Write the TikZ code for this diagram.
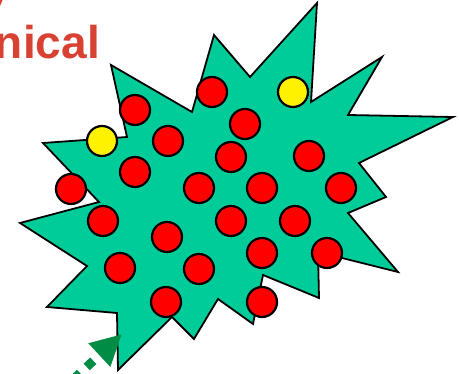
\documentclass[tikz,border=0pt]{standalone}
\usepackage{fontspec}
\setmainfont{Liberation Sans}
\usepackage{tikz}
\usetikzlibrary{arrows.meta}
\usepackage{xcolor}
\definecolor{blobgreen}{RGB}{0,204,153}
\definecolor{arrowgreen}{RGB}{0,140,69}
\definecolor{titlered}{RGB}{217,65,50}

\begin{document}
\begin{tikzpicture}[
    x=1pt, y=-1pt,
    ball/.style={
        circle, draw=black, line width=2.2pt,
        fill=#1, minimum size=30pt, inner sep=0pt
    },
    ball/.default={red},
    garrow/.style={-{Triangle[length=31pt,width=30pt]}, line width=9pt,
        draw=arrowgreen, dash pattern=on 9pt off 9pt},
    lbl/.style={font=\bfseries\fontsize{46}{55}\selectfont, text=titlered,
        inner sep=0pt, anchor=base east}
]
\useasboundingbox (0,0) rectangle (459,374);
\clip (0,0) rectangle (459,374);

% Title words (cut at the edge)
\node[lbl] (wordtop) at (12,2) {y};
\node[lbl] (wordlow) at (100,59) {nical};

% Star-shaped blob
\draw[fill=blobgreen, line width=1.8pt, line join=miter]
    (453,117) -- (359,163) -- (386,197) -- (348,213) -- (398,272)
    -- (318,252) -- (319,298) -- (263,275) -- (253,324) -- (218,299)
    -- (194,339) -- (172,317) -- (118,370) -- (117,313) -- (47,307)
    -- (87,266) -- (20,223) -- (99,202) -- (43,143) -- (127,137)
    -- (111,65) -- (192,112) -- (214,35) -- (250,77) -- (317,3)
    -- (311,102) -- (382,57) -- (348,115) -- cycle;

% Yellow particles
\node[ball=yellow] (y1) at (293,92) {};
\node[ball=yellow] (y2) at (102,141) {};

% Red particles, row by row
\node[ball] (r1) at (135,110) {};
\node[ball] (r2) at (212,92) {};
\node[ball] (r3) at (168,141) {};
\node[ball] (r4) at (245,124) {};
\node[ball] (r5) at (231,157) {};
\node[ball] (r6) at (309,156) {};
\node[ball] (r7) at (135,172) {};
\node[ball] (r8) at (71,189) {};
\node[ball] (r9) at (199,188) {};
\node[ball] (r10) at (262,188) {};
\node[ball] (r11) at (341,188) {};
\node[ball] (r12) at (103,221) {};
\node[ball] (r13) at (231,221) {};
\node[ball] (r14) at (295,221) {};
\node[ball] (r15) at (167,237) {};
\node[ball] (r16) at (327,253) {};
\node[ball] (r17) at (262,253) {};
\node[ball] (r18) at (120,268) {};
\node[ball] (r19) at (199,269) {};
\node[ball] (r20) at (166,302) {};
\node[ball] (r21) at (262,302) {};

% Incoming arrow
\coordinate (src) at (34,416);
\coordinate (hit) at (122,334);
\draw[garrow] (src) -- (hit);

\end{tikzpicture}
\end{document}
